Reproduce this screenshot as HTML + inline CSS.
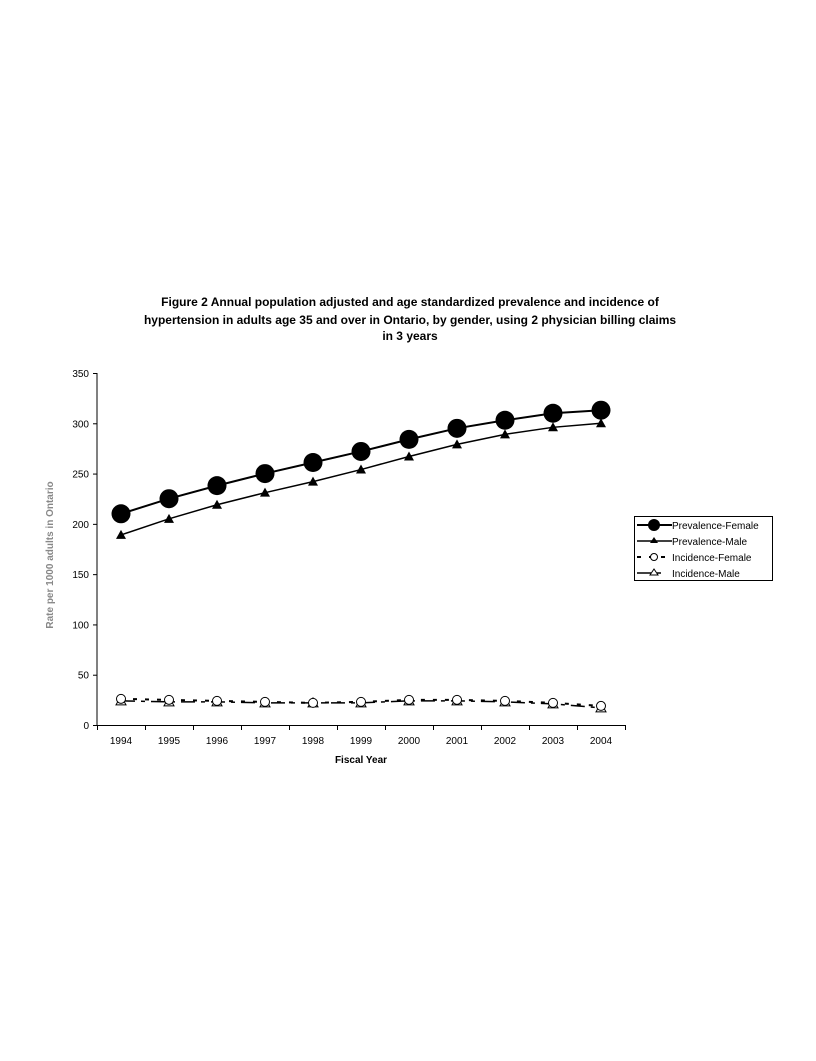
<!DOCTYPE html>
<html><head><meta charset="utf-8"><style>
body{margin:0;background:#fff;}
svg text{font-family:"Liberation Sans",Arial,sans-serif;}
</style></head><body>
<svg width="816" height="1056" viewBox="0 0 816 1056" xmlns="http://www.w3.org/2000/svg">
<g font-size="12" font-weight="bold" text-anchor="middle">
<text x="410" y="306">Figure 2  Annual population adjusted and age standardized prevalence and incidence of</text>
<text x="410" y="324">hypertension in adults age 35 and over in Ontario, by gender, using 2 physician billing claims</text>
<text x="410" y="340">in 3 years</text>
</g>
<text transform="translate(53,555) rotate(-90)" font-size="10" font-weight="bold" text-anchor="middle" fill="#888">Rate per 1000 adults in Ontario</text>
<g id="axes"></g>
<g id="series"></g>
<text x="361" y="763" font-size="10" font-weight="bold" text-anchor="middle">Fiscal Year</text>
<g>
<rect x="634.5" y="516.5" width="138" height="64" fill="#fff" stroke="#000"/>
<g><line x1="637" y1="525" x2="672" y2="525" stroke="#000" stroke-width="2"/><circle cx="654" cy="525" r="6"/><text x="672" y="529" font-size="10">Prevalence-Female</text></g>
<g><line x1="637" y1="541" x2="672" y2="541" stroke="#000" stroke-width="1.5"/><polygon points="654,537 658,543 650,543"/><text x="672" y="545" font-size="10">Prevalence-Male</text></g>
<g><line x1="637" y1="557" x2="672" y2="557" stroke="#000" stroke-width="2" stroke-dasharray="4,8"/><circle cx="654" cy="557" r="3.5" fill="#fff" stroke="#000"/><text x="672" y="561" font-size="10">Incidence-Female</text></g>
<g><line x1="637" y1="573" x2="665" y2="573" stroke="#000" stroke-width="1.5" stroke-dasharray="14,6,4,6"/><polygon points="654,569 658,575 650,575" fill="#fff" stroke="#000"/><text x="672" y="577" font-size="10">Incidence-Male</text></g>
</g>
</svg>
<script>
const years=["1994","1995","1996","1997","1998","1999","2000","2001","2002","2003","2004"];
const yTicks=[0,50,100,150,200,250,300,350];
const prevFemale=[210,225,238,250,261,272,284,295,303,310,313];
const prevMale=[189,205,219,231,242,254,267,279,289,296,300];
const incFemale=[26,25,24,23,22,23,25,25,24,22,19];
const incMale=[24,23,23,22,22,22,24,24,23,21,17];
const NS="http://www.w3.org/2000/svg";
const x0=97,x1=625,y0=725,y1=373;
const bw=(x1-x0)/years.length;
function X(i){return x0+bw*(i+0.5);}
function Y(v){return y0-(v/350)*(y0-y1);}
function mk(t,a,p){const e=document.createElementNS(NS,t);for(const k in a)e.setAttribute(k,a[k]);p.appendChild(e);return e;}
const ax=document.getElementById('axes');
let e=mk('line',{x1:x0,y1:y1,x2:x0,y2:y0,stroke:'#000'},ax);


e=mk('line',{x1:x0,y1:y0+.5,x2:x1,y2:y0+.5,stroke:'#000'},ax);


yTicks.forEach(v=>{
 mk('line',{x1:x0-4,y1:Y(v)+.5,x2:x0,y2:Y(v)+.5,stroke:'#000'},ax);
 const t=mk('text',{x:x0-8,y:Y(v)+4,'font-size':10,'text-anchor':'end'},ax);t.textContent=v;
 
 
});
for(let i=0;i<=years.length;i++)mk('line',{x1:x0+bw*i+.5,y1:y0,x2:x0+bw*i+.5,y2:y0+5,stroke:'#000'},ax);
years.forEach((y,i)=>{const t=mk('text',{x:X(i),y:y0+19,'font-size':10,'text-anchor':'middle'},ax);t.textContent=y;
 
 });
const sg=document.getElementById('series');
function series(name,data,lw,dash,marker){
 const g=mk('g',{},sg);
 
 
 mk('polyline',{points:data.map((v,i)=>X(i)+','+Y(v)).join(' '),fill:'none',stroke:'#000','stroke-width':lw,'stroke-dasharray':dash},g);
 data.forEach((v,i)=>{const cx=X(i),cy=Y(v);let m;
  if(marker==='bigcircle')m=mk('circle',{cx,cy,r:9.5},g);
  else if(marker==='tri')m=mk('polygon',{points:`${cx},${cy-5} ${cx+5},${cy+4} ${cx-5},${cy+4}`},g);
  else if(marker==='ocircle')m=mk('circle',{cx,cy,r:4.5,fill:'#fff',stroke:'#000'},g);
  else m=mk('polygon',{points:`${cx},${cy-5} ${cx+5},${cy+4} ${cx-5},${cy+4}`,fill:'#fff',stroke:'#000'},g);
  
  
 });
}
series('incidence-male',incMale,1.5,'14,6,4,6','otri');
series('incidence-female',incFemale,2,'4,8','ocircle');
series('prevalence-male',prevMale,1.5,'none','tri');
series('prevalence-female',prevFemale,2,'none','bigcircle');
</script>
</body></html>
